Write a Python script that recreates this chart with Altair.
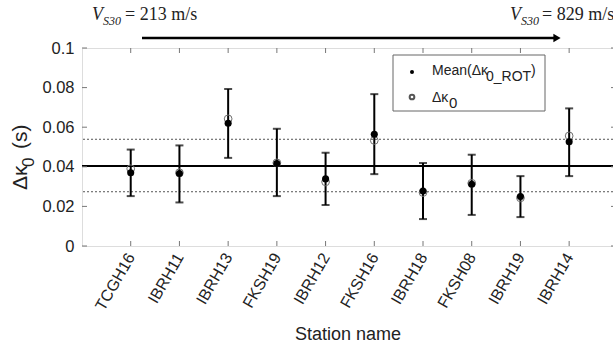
import altair as alt
import pandas as pd

# ---------------- data ----------------
stations = ["TCGH16", "IBRH11", "IBRH13", "FKSH19", "IBRH12",
            "FKSH16", "IBRH18", "FKSH08", "IBRH19", "IBRH14"]
mean_rot = [0.0370, 0.0366, 0.0620, 0.0417, 0.0339, 0.0564, 0.0278, 0.0312, 0.0250, 0.0526]
dk0 = [0.0390, 0.0370, 0.0642, 0.0420, 0.0324, 0.0533, 0.0270, 0.0317, 0.0243, 0.0556]
err_low = [0.0252, 0.0220, 0.0445, 0.0252, 0.0207, 0.0363, 0.0136, 0.0157, 0.0146, 0.0353]
err_high = [0.0487, 0.0508, 0.0793, 0.0592, 0.0471, 0.0767, 0.0419, 0.0461, 0.0353, 0.0695]
overall_mean = [0.0404]
std_band = [0.0274, 0.0539]
y_ticks = [0, 0.02, 0.04, 0.06, 0.08, 0.1]
vs30_left = "= 213 m/s"
vs30_right = "= 829 m/s"

W, H = 531, 198
FONT = "Liberation Sans"
SERIF = "Liberation Serif"
TXT = "#222222"

df = pd.DataFrame(dict(pos=list(range(1, len(stations) + 1)), station=stations,
                       mean_rot=mean_rot, dk0=dk0, lo=err_low, hi=err_high))

label_js = "[" + ",".join(f"'{s}'" for s in stations) + "][datum.value-1]"

xscale = alt.Scale(domain=[0, 10.9], nice=False, zero=False)
yscale = alt.Scale(domain=[0, 0.1], nice=False)

xax = alt.Axis(values=list(range(1, len(stations) + 1)), labelExpr=label_js,
               labelAngle=300, labelFontSize=16, labelFont=FONT, labelColor=TXT,
               labelPadding=8, ticks=False, domain=False, grid=False,
               title="Station name", titleFontSize=18, titleFont=FONT,
               titleFontWeight="normal", titleColor=TXT, titleY=88,
               titleBaseline="middle")
yax = alt.Axis(values=y_ticks,
               labelExpr="datum.value == 0 ? '0' : format(datum.value, '.2~f')",
               labelFontSize=16.5, labelFont=FONT, labelColor=TXT, labelPadding=8,
               ticks=False, domain=False, grid=False, title="")


def X():
    return alt.X("pos:Q", scale=xscale, axis=xax)


def Y(f):
    return alt.Y(f, scale=yscale, axis=yax)


base = alt.Chart(df)

band = alt.Chart(pd.DataFrame({"v": std_band})).mark_rule(
    color="#555555", strokeDash=[2, 2], strokeWidth=1).encode(y=Y("v:Q"))
mean_line = alt.Chart(pd.DataFrame({"v": overall_mean})).mark_rule(
    color="black", strokeWidth=2).encode(y=Y("v:Q"))

err = base.mark_rule(color="black", strokeWidth=2).encode(x=X(), y=Y("lo:Q"), y2="hi:Q")
cap_lo = base.mark_tick(orient="horizontal", size=8, thickness=2, color="black").encode(x=X(), y=Y("lo:Q"))
cap_hi = base.mark_tick(orient="horizontal", size=8, thickness=2, color="black").encode(x=X(), y=Y("hi:Q"))

open_pts = base.mark_point(shape="circle", filled=False, size=60, color="#707070",
                           strokeWidth=1, opacity=1).encode(x=X(), y=Y("dk0:Q"))
filled_pts = base.mark_point(shape="circle", filled=True, size=50, color="black",
                             opacity=1).encode(x=X(), y=Y("mean_rot:Q"))

# inward ticks (MATLAB style box)
tick_col = "#777777"
top_ticks = base.mark_rule(color=tick_col, strokeWidth=1).encode(
    x=X(), y=alt.value(0), y2=alt.value(5))
bot_ticks = base.mark_rule(color=tick_col, strokeWidth=1).encode(
    x=X(), y=alt.value(H - 5), y2=alt.value(H))
ydf = alt.Chart(pd.DataFrame({"v": y_ticks}))
left_ticks = ydf.mark_rule(color=tick_col, strokeWidth=1).encode(
    y=Y("v:Q"), x=alt.value(0), x2=alt.value(5))
right_ticks = ydf.mark_rule(color=tick_col, strokeWidth=1).encode(
    y=Y("v:Q"), x=alt.value(W - 2), x2=alt.value(W))

# legend (drawn manually)
one = alt.Chart(pd.DataFrame({"a": [0]}))
leg_box = one.mark_rect(fill="white", stroke="#666666", strokeWidth=1).encode(
    x=alt.value(311), x2=alt.value(463), y=alt.value(7), y2=alt.value(63))
leg_f = one.mark_point(shape="circle", filled=True, size=16, color="black", opacity=1).encode(
    x=alt.value(330), y=alt.value(24))
leg_o = one.mark_point(shape="circle", filled=False, size=22, color="#555555", opacity=1).encode(
    x=alt.value(330), y=alt.value(49))


def txt(s, x, y, size, font=FONT, style="normal", align="left", angle=0):
    return one.mark_text(text=s, font=font, fontSize=size, fontStyle=style,
                         align=align, baseline="alphabetic", color=TXT,
                         angle=angle).encode(x=alt.value(x), y=alt.value(y))


leg_txt = [
    txt("Mean(Δκ", 350, 27, 14),
    txt("0_ROT", 404, 33, 14),
    txt(")", 449, 27, 14),
    txt("Δκ", 350, 54, 14),
    txt("0", 367, 60, 15),
]

# y-axis title (rotated, with subscript)
ytitle = [
    txt("Δκ", -55, 142, 21, angle=270),
    txt("0", -48, 119, 17, angle=270),
    txt("(s)", -55, 101, 21, angle=270),
]

# V_S30 annotations and arrow
ann = [
    txt("V", 10, -28, 18, SERIF, "italic"),
    txt("S30", 21, -23, 12, SERIF, "italic"),
    txt(vs30_left, 43, -28, 18, SERIF),
    txt("V", 428, -28, 18, SERIF, "italic"),
    txt("S30", 439, -23, 12, SERIF, "italic"),
    txt(vs30_right, 460, -28, 18, SERIF),
]
arrow_line = one.mark_rule(color="black", strokeWidth=2.5).encode(
    x=alt.value(60), x2=alt.value(474), y=alt.value(-10))
arrow_head = one.mark_point(shape="triangle-right", filled=True, size=70, color="black",
                            opacity=1).encode(x=alt.value(475), y=alt.value(-10))

chart = alt.layer(
    band, mean_line, err, cap_lo, cap_hi, open_pts, filled_pts,
    top_ticks, bot_ticks, left_ticks, right_ticks,
    leg_box, leg_f, leg_o, *leg_txt, *ytitle, *ann, arrow_line, arrow_head,
).properties(
    width=W, height=H,
    autosize=alt.AutoSizeParams(type="none"),
    padding={"left": 82, "top": 48, "right": 0, "bottom": 354 - 48 - H},
).configure_view(stroke="#888888", strokeWidth=1).configure(background="white")

chart.save("out.html", embed_options={"renderer": "svg", "actions": False})
